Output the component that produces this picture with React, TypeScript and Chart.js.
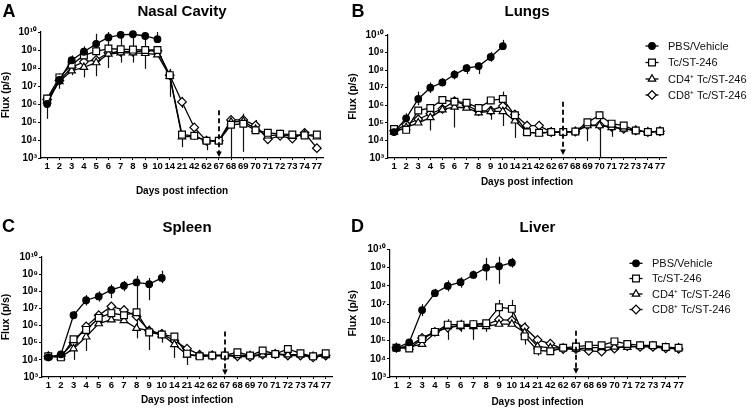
import React, { useEffect, useRef } from 'react';
import { Chart, registerables } from 'chart.js';

Chart.register(...registerables);

const FONT = "'Liberation Sans', Arial, Helvetica, sans-serif";
Chart.defaults.font.family = FONT;
Chart.defaults.color = '#000';

// ---------- shared categories / ticks ----------
const days = ['1', '2', '3', '4', '5', '6', '7', '8', '9', '10', '14', '21', '42', '62', '67', '68', '69', '70', '71', '72', '73', '74', '77'];
const yTickValues = [1e3, 1e4, 1e5, 1e6, 1e7, 1e8, 1e9, 1e10];
const yTickLabels = ['10³', '10⁴', '10⁵', '10⁶', '10⁷', '10⁸', '10⁹', '10¹⁰'];
const seriesNames = ['PBS/Vehicle', 'Tc/ST-246', 'CD4⁺ Tc/ST-246', 'CD8⁺ Tc/ST-246'];
const xTitle = 'Days post infection';
const yTitle = 'Flux (p/s)';
const arrowDay = '67';

// ---------- A: Nasal Cavity ----------
const nasalPbs = [1.0e6, 2.2e7, 2.7e8, 8.0e8, 2.2e9, 5.0e9, 7.0e9, 7.5e9, 6.0e9, 4.0e9];
const nasalTc = [2.0e6, 3.0e7, 1.5e8, 5.0e8, 8.5e8, 1.2e9, 1.1e9, 1.05e9, 1.0e9, 1.0e9, 4.0e7, 2.0e4, 1.7e4, 9.0e3, 9.0e3, 7.0e4, 8.0e4, 3.5e4, 2.5e4, 2.2e4, 2.0e4, 1.8e4, 2.0e4];
const nasalCd4 = [1.5e6, 1.8e7, 7.0e7, 1.1e8, 2.0e8, 6.0e8, 7.0e8, 7.0e8, 6.5e8, 5.5e8, 3.5e7, 1.5e4, 1.6e4, 9.0e3, 9.0e3, 1.0e5, 1.1e5, 4.0e4, 1.7e4, 2.0e4, 1.6e4, 2.0e4, 1.5e4];
const nasalCd8 = [1.8e6, 2.0e7, 1.1e8, 2.2e8, 2.8e8, 7.0e8, 8.0e8, 8.0e8, 9.0e8, 9.0e8, 4.0e7, 1.3e6, 5.0e4, 9.0e3, 9.0e3, 1.3e5, 1.3e5, 6.5e4, 1.1e4, 1.7e4, 1.2e4, 2.5e4, 3.5e3];
// [series, day, low, high]
const nasalErr: [number, string, number, number][] = [
  [0, '1', 1.5e5, 2e6], [2, '2', 7e6, 5e7], [0, '3', 1.5e8, 5e8], [2, '3', 4e7, 1.5e8],
  [0, '4', 3e8, 1.6e9], [2, '4', 3e7, 2e8], [0, '5', 1e9, 8e9], [2, '5', 3.5e7, 3e8],
  [0, '6', 1e8, 1e10], [0, '7', 2e8, 1e10], [0, '8', 2e8, 1e10], [0, '9', 9e7, 1e10],
  [0, '10', 2.5e9, 1e10], [1, '14', 2.5e6, 9e7], [1, '21', 4e3, 3e4], [3, '21', 6e5, 2.5e6],
  [2, '42', 1e4, 2.5e4], [2, '62', 2.7e3, 1.2e4], [2, '68', 1e3, 1.6e5], [2, '69', 2.2e3, 2.9e5],
  [3, '70', 3e4, 1.3e5], [3, '71', 7e3, 3e4], [3, '74', 1.5e4, 3.5e4],
];
const nasalArrow = [4.5e5, 1.15e3];

// ---------- B: Lungs ----------
const lungPbs = [3.0e4, 1.8e5, 2.3e6, 1.0e7, 2.0e7, 5.6e7, 1.3e8, 1.7e8, 5.6e8, 2.3e9];
const lungTc = [4.5e4, 4.0e4, 5.0e5, 7.0e5, 2.0e6, 1.6e6, 1.4e6, 7.0e5, 1.9e6, 2.3e6, 2.7e5, 2.9e4, 2.7e4, 3.0e4, 3.0e4, 3.2e4, 1.07e5, 2.7e5, 9.0e4, 7.0e4, 3.7e4, 3.0e4, 3.3e4];
const lungCd4 = [3.0e4, 5.5e4, 1.0e5, 2.0e5, 5.6e5, 8.0e5, 7.0e5, 3.8e5, 4.5e5, 4.5e5, 1.3e5, 3.0e4, 2.5e4, 3.0e4, 3.0e4, 3.2e4, 7.0e4, 7.0e4, 5.5e4, 4.5e4, 3.7e4, 3.0e4, 3.3e4];
const lungCd8 = [3.5e4, 8.0e4, 1.6e5, 3.3e5, 6.3e5, 1.7e6, 1.0e6, 4.7e5, 5.0e5, 9.0e5, 3.0e5, 7.0e4, 7.0e4, 3.0e4, 3.0e4, 3.2e4, 7.5e4, 7.5e4, 6.0e4, 4.5e4, 3.7e4, 3.0e4, 3.3e4];
const lungErr: [number, string, number, number][] = [
  [0, '1', 2e4, 4.5e4], [0, '2', 8e4, 3.5e5], [0, '3', 1e6, 6e6], [0, '4', 5e6, 2e7], [2, '4', 3.7e4, 1e6],
  [0, '5', 1.2e7, 3.5e7], [0, '6', 3e7, 1e8], [2, '6', 5.4e4, 2.7e6], [0, '7', 6e7, 2.2e8],
  [0, '8', 6e7, 2.7e8], [0, '9', 3e8, 1.1e9], [3, '9', 1.5e5, 9e5], [0, '10', 1.5e9, 5.3e9],
  [2, '10', 6.6e4, 6e6], [2, '14', 1.4e4, 3.8e5], [3, '21', 3e4, 1.3e5], [3, '42', 3.5e4, 1.3e5],
  [1, '69', 9e3, 1.6e5], [2, '70', 1e3, 4.5e5], [3, '71', 1.6e4, 1.1e5],
];
const lungArrow = [1.6e6, 1.5e3];

// ---------- C: Spleen ----------
const spleenPbs = [1.4e4, 2.1e4, 4.0e6, 3.0e7, 5.0e7, 1.2e8, 2.1e8, 3.3e8, 2.6e8, 6.0e8];
const spleenTc = [1.6e4, 1.4e4, 1.6e5, 5.6e5, 2.8e6, 5.3e6, 4.0e6, 6.0e6, 4.0e5, 3.0e5, 2.3e5, 2.3e4, 1.6e4, 1.8e4, 1.8e4, 2.8e4, 1.8e4, 3.5e4, 2.2e4, 4.3e4, 2.4e4, 1.6e4, 2.4e4];
const spleenCd4 = [1.6e4, 1.5e4, 4.5e4, 2.2e5, 1.3e6, 2.2e6, 2.0e6, 7.0e5, 5.0e5, 3.0e5, 8.0e4, 2.0e4, 1.6e4, 1.8e4, 1.8e4, 1.8e4, 1.8e4, 2.0e4, 2.2e4, 2.0e4, 2.0e4, 1.6e4, 1.8e4];
const spleenCd8 = [1.6e4, 1.7e4, 1.0e5, 9.0e5, 4.0e6, 1.3e7, 8.0e6, 3.4e6, 5.0e5, 3.3e5, 1.3e5, 4.5e4, 2.0e4, 1.8e4, 1.8e4, 1.6e4, 1.5e4, 2.0e4, 2.2e4, 1.8e4, 1.8e4, 1.4e4, 1.8e4];
const spleenErr: [number, string, number, number][] = [
  [0, '3', 2.5e6, 7e6], [0, '4', 1.5e7, 6e7], [0, '5', 2.5e7, 1e8], [0, '6', 4e7, 2.5e8],
  [0, '7', 1e8, 4e8], [0, '8', 1.8e5, 8e8], [0, '9', 3e7, 6e8], [0, '10', 3e8, 1.6e9],
  [2, '3', 1e4, 1e5], [2, '4', 3.3e4, 6e5], [3, '5', 1.3e6, 6e6], [3, '6', 8e6, 2e7],
  [3, '7', 3.5e6, 1.5e7], [2, '9', 3.7e4, 8.5e5], [2, '10', 1e5, 6e5], [2, '14', 1.3e4, 3e5],
  [1, '21', 5e3, 3e4], [1, '72', 2.5e4, 6e4], [3, '77', 1e4, 2.5e4],
];
const spleenArrow = [4.5e5, 1.3e3];

// ---------- D: Liver ----------
const liverPbs = [3.9e4, 8.0e4, 4.7e6, 4.0e7, 1.0e8, 1.6e8, 4.0e8, 1.0e9, 1.2e9, 1.9e9];
const liverTc = [4.0e4, 3.7e4, 1.2e5, 3.0e5, 7.5e5, 7.5e5, 8.0e5, 9.0e5, 6.8e6, 5.5e6, 1.7e5, 2.9e4, 2.6e4, 4.0e4, 4.7e4, 5.5e4, 5.5e4, 9.0e4, 6.5e4, 5.5e4, 5.5e4, 4.4e4, 4.0e4];
const liverCd4 = [4.0e4, 4.5e4, 6.3e4, 2.5e5, 6.0e5, 6.0e5, 6.0e5, 6.0e5, 8.0e5, 8.0e5, 2.8e5, 4.8e4, 4.0e4, 3.9e4, 3.5e4, 4.0e4, 4.2e4, 4.5e4, 4.3e4, 5.0e4, 5.0e4, 4.2e4, 4.0e4];
const liverCd8 = [4.0e4, 5.0e4, 1.4e5, 3.0e5, 5.2e5, 6.5e5, 7.0e5, 7.5e5, 1.4e6, 1.3e6, 5.2e5, 1.1e5, 6.8e4, 3.4e4, 3.4e4, 2.7e4, 2.5e4, 3.6e4, 5.0e4, 4.5e4, 4.5e4, 3.7e4, 3.5e4];
const liverErr: [number, string, number, number][] = [
  [0, '3', 2.2e6, 1e7], [0, '4', 2.5e7, 7e7], [0, '5', 5e7, 2e8], [0, '6', 8e7, 3e8],
  [0, '7', 2.5e8, 7e8], [0, '8', 2e8, 3.5e9], [0, '9', 1.3e8, 4e9], [0, '10', 1e9, 3.5e9],
  [1, '9', 2.5e6, 1.7e7], [1, '10', 1.3e6, 1.7e7], [2, '5', 1.1e5, 1.5e6], [3, '6', 3e5, 1.4e6],
  [2, '7', 1.1e5, 1.2e6], [2, '8', 3e5, 1.3e6], [3, '14', 1.5e5, 1e6], [1, '14', 6e4, 3e5],
  [2, '21', 1.5e4, 5e4], [2, '42', 2e4, 6e4],
];
const liverArrow = [3.5e5, 1.5e3];

// ---------- styles ----------
const pointStyles = ['circle', 'rect', 'triangle', 'rectRot'];
const pointRadii = [3.3, 4.8, 4.3, 4.3];
const pointFills = ['#000', '#fff', '#fff', '#fff'];

type Panel = {
  letter: string;
  title: string;
  series: number[][];
  errors: [number, string, number, number][];
  arrow: number[];
  legend: boolean;
  box: { left: number; top: number; width: number; height: number };
  yW: number;
  padRight: number;
  titleTop: number;
  titleBottom: number;
  xH: number;
  xTitleBottom: number;
  letterPos: [number, number];
  legendPos?: { mx: number; tx: number; ys: number[] };
};

const panels: Panel[] = [
  {
    letter: 'A', title: 'Nasal Cavity', series: [nasalPbs, nasalTc, nasalCd4, nasalCd8], errors: nasalErr, arrow: nasalArrow,
    legend: false, box: { left: 0, top: 0, width: 347, height: 204 }, yW: 41, padRight: 24,
    titleTop: 3, titleBottom: 11, xH: 46, xTitleBottom: 7, letterPos: [9, 12],
  },
  {
    letter: 'B', title: 'Lungs', series: [lungPbs, lungTc, lungCd4, lungCd8], errors: lungErr, arrow: lungArrow,
    legend: true, box: { left: 347, top: 0, width: 407, height: 204 }, yW: 41, padRight: 88,
    titleTop: 3, titleBottom: 14, xH: 46, xTitleBottom: 16, letterPos: [11, 12],
    legendPos: { mx: 305, tx: 321, ys: [46, 62.5, 79, 95] },
  },
  {
    letter: 'C', title: 'Spleen', series: [spleenPbs, spleenTc, spleenCd4, spleenCd8], errors: spleenErr, arrow: spleenArrow,
    legend: false, box: { left: 0, top: 204, width: 347, height: 204 }, yW: 42, padRight: 15,
    titleTop: 15, titleBottom: 20, xH: 31, xTitleBottom: 2, letterPos: [8.5, 23],
  },
  {
    letter: 'D', title: 'Liver', series: [liverPbs, liverTc, liverCd4, liverCd8], errors: liverErr, arrow: liverArrow,
    legend: true, box: { left: 347, top: 204, width: 407, height: 204 }, yW: 43, padRight: 69,
    titleTop: 15, titleBottom: 12.5, xH: 31, xTitleBottom: 0, letterPos: [10.5, 23],
    legendPos: { mx: 289, tx: 305, ys: [59.3, 74.5, 90, 105.5] },
  },
];

function drawMarker(ctx: CanvasRenderingContext2D, k: number, x: number, y: number) {
  const r = pointRadii[k];
  ctx.beginPath();
  if (pointStyles[k] === 'circle') {
    ctx.arc(x, y, r, 0, Math.PI * 2);
  } else if (pointStyles[k] === 'rect') {
    const s = Math.SQRT1_2 * r;
    ctx.rect(x - s, y - s, 2 * s, 2 * s);
  } else if (pointStyles[k] === 'triangle') {
    let a = 0;
    ctx.moveTo(x + Math.sin(a) * r, y - Math.cos(a) * r);
    a += (2 * Math.PI) / 3;
    ctx.lineTo(x + Math.sin(a) * r, y - Math.cos(a) * r);
    a += (2 * Math.PI) / 3;
    ctx.lineTo(x + Math.sin(a) * r, y - Math.cos(a) * r);
    ctx.closePath();
  } else {
    ctx.moveTo(x - r, y);
    ctx.lineTo(x, y - r);
    ctx.lineTo(x + r, y);
    ctx.lineTo(x, y + r);
    ctx.closePath();
  }
  ctx.fillStyle = pointFills[k];
  ctx.fill();
  ctx.strokeStyle = '#000';
  ctx.lineWidth = 1.2;
  ctx.stroke();
}

function overlayPlugin(p: Panel) {
  return {
    id: 'overlay' + p.letter,
    beforeDatasetsDraw(chart: any) {
      const { ctx } = chart;
      const xs = chart.scales.x;
      const ys = chart.scales.y;
      ctx.save();
      ctx.strokeStyle = '#111';
      ctx.lineWidth = 1.2;
      for (const [, d, lo, hi] of p.errors) {
        const px = Math.round(xs.getPixelForValue(days.indexOf(d))) + 0.5;
        const y1 = ys.getPixelForValue(Math.max(lo, 1e3));
        const y2 = ys.getPixelForValue(Math.min(hi, 1e10));
        ctx.beginPath();
        ctx.moveTo(px, y1);
        ctx.lineTo(px, y2);
        ctx.stroke();
      }
      ctx.restore();
    },
    afterDatasetsDraw(chart: any) {
      const { ctx } = chart;
      const xs = chart.scales.x;
      const ys = chart.scales.y;
      const px = Math.round(xs.getPixelForValue(days.indexOf(arrowDay)));
      const yTop = ys.getPixelForValue(p.arrow[0]);
      const yTip = ys.getPixelForValue(p.arrow[1]);
      ctx.save();
      ctx.strokeStyle = '#000';
      ctx.lineWidth = 1.8;
      ctx.setLineDash([5, 3]);
      ctx.beginPath();
      ctx.moveTo(px, yTop);
      ctx.lineTo(px, yTip - 4);
      ctx.stroke();
      ctx.setLineDash([]);
      ctx.fillStyle = '#000';
      ctx.beginPath();
      ctx.moveTo(px - 2.8, yTip - 5.5);
      ctx.lineTo(px + 2.8, yTip - 5.5);
      ctx.lineTo(px, yTip);
      ctx.closePath();
      ctx.fill();
      ctx.restore();
    },
    afterDraw(chart: any) {
      const { ctx } = chart;
      ctx.save();
      ctx.fillStyle = '#000';
      ctx.font = `bold 18px ${FONT}`;
      ctx.textAlign = 'center';
      ctx.textBaseline = 'middle';
      ctx.fillText(p.letter, p.letterPos[0], p.letterPos[1]);
      if (p.legend && p.legendPos) {
        const { mx, tx, ys } = p.legendPos;
        ctx.font = `11px ${FONT}`;
        ctx.textAlign = 'left';
        ctx.textBaseline = 'middle';
        seriesNames.forEach((name, k) => {
          const y = ys[k];
          ctx.strokeStyle = '#000';
          ctx.lineWidth = 1.3;
          ctx.beginPath();
          ctx.moveTo(mx - 6.5, y);
          ctx.lineTo(mx + 6.5, y);
          ctx.stroke();
          drawMarker(ctx, k, mx, y);
          ctx.fillStyle = '#111';
          ctx.fillText(name, tx, y + 0.5);
        });
      }
      ctx.restore();
    },
  };
}

function PanelChart({ p }: { p: Panel }) {
  const ref = useRef<HTMLCanvasElement | null>(null);
  useEffect(() => {
    if (!ref.current) return;
    const datasets = p.series.map((data, k) => ({
      label: seriesNames[k],
      data,
      borderColor: '#000',
      borderWidth: 1.3,
      backgroundColor: pointFills[k],
      pointStyle: pointStyles[k],
      pointRadius: pointRadii[k],
      pointBorderColor: '#000',
      pointBackgroundColor: pointFills[k],
      pointBorderWidth: 1.2,
      tension: 0,
      fill: false,
      clip: 6,
    }));
    const chart = new Chart(ref.current, {
      type: 'line',
      data: { labels: days, datasets },
      options: {
        responsive: false,
        animation: false,
        events: [],
        layout: { padding: { left: 0, right: p.padRight, top: 0, bottom: 0 } },
        plugins: {
          legend: { display: false },
          tooltip: { enabled: false },
          title: {
            display: true,
            text: p.title,
            fullSize: false,
            color: '#000',
            font: { family: FONT, size: 15, weight: 'bold', lineHeight: 1.2 },
            padding: { top: p.titleTop, bottom: p.titleBottom },
          },
        },
        scales: {
          x: {
            type: 'category',
            offset: true,
            grid: { display: true, drawOnChartArea: false, drawTicks: true, tickLength: 2, color: '#000', lineWidth: 1 },
            border: { display: true, color: '#000', width: 1.2 },
            ticks: { autoSkip: false, maxRotation: 0, minRotation: 0, padding: 1, color: '#000', font: { family: FONT, size: 9.5, weight: 'bold' } },
            title: {
              display: true,
              text: xTitle,
              color: '#000',
              font: { family: FONT, size: 10, weight: 'bold', lineHeight: 1.2 },
              padding: { top: 0, bottom: p.xTitleBottom },
            },
            afterFit: (s: any) => { s.height = p.xH; },
          },
          y: {
            type: 'logarithmic',
            min: 1e3,
            max: 1e10,
            grid: { display: true, drawOnChartArea: false, drawTicks: true, tickLength: 3, color: '#000', lineWidth: 1 },
            border: { display: true, color: '#000', width: 1.2 },
            afterBuildTicks: (s: any) => { s.ticks = yTickValues.map((v) => ({ value: v, major: false })); },
            ticks: {
              padding: 1,
              color: '#000',
              font: { family: FONT, size: 10, weight: 'bold' },
              callback: (v: any) => {
                const i = yTickValues.indexOf(Number(v));
                return i >= 0 ? yTickLabels[i] : '';
              },
            },
            title: {
              display: true,
              text: yTitle,
              color: '#000',
              font: { family: FONT, size: 10.5, weight: 'bold', lineHeight: 1.1 },
              padding: { top: 0, bottom: 0 },
            },
            afterFit: (s: any) => { s.width = p.yW; },
          },
        },
      } as any,
      plugins: [overlayPlugin(p)],
    });
    return () => chart.destroy();
  }, [p]);
  return (
    <canvas
      ref={ref}
      width={p.box.width}
      height={p.box.height}
      style={{ position: 'absolute', left: p.box.left, top: p.box.top, width: p.box.width, height: p.box.height }}
    />
  );
}

export default function App() {
  return (
    <div style={{ position: 'absolute', left: 0, top: 0, width: 754, height: 408, background: '#fff', overflow: 'hidden' }}>
      {panels.map((p) => (
        <PanelChart key={p.letter} p={p} />
      ))}
    </div>
  );
}
